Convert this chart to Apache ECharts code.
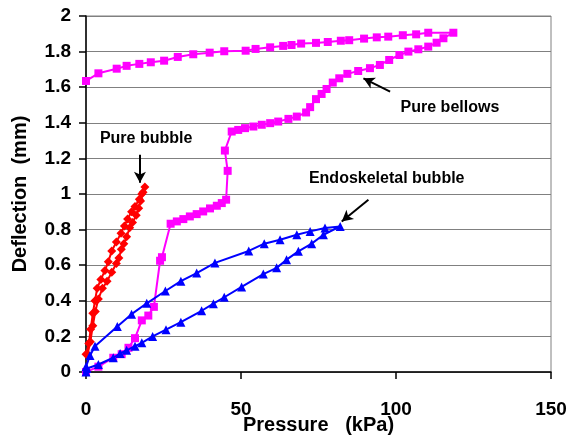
<!DOCTYPE html>
<html><head><meta charset="utf-8">
<script src="https://cdn.jsdelivr.net/npm/echarts@6/dist/echarts.min.js"></script>
<style>html,body{margin:0;padding:0;background:#fff}#c{width:569px;height:435px}</style>
</head><body><div id="c"></div>
<script>
// ---- data ----
const xTicks = [0, 50, 100, 150];
const yTicks = [0, 0.2, 0.4, 0.6, 0.8, 1, 1.2, 1.4, 1.6, 1.8, 2];
const bellowsX = [0,4.0,8.8,11.5,13.7,15.8,18.0,20.1,21.9,23.9,24.5,27.3,29.3,31.4,33.5,35.7,37.8,40.0,42.2,43.8,45.2,45.7,44.8,47.0,49.1,51.3,54.0,56.7,59.4,62.0,65.3,68.0,71.0,72.3,74.2,76.0,77.6,79.6,81.7,84.3,87.8,91.6,94.8,97.8,101.1,104.0,107.2,110.4,113.1,115.3,118.5,
  110.4,106.5,102.2,97.5,93.8,89.7,84.9,82.2,78.0,74.2,69.4,66.3,63.6,59.4,54.7,51.5,44.6,39.9,34.6,29.6,25.2,20.9,17.2,13.1,9.9,4.0,0];
const bellowsY = [0,0.03,0.08,0.10,0.136,0.19,0.29,0.317,0.366,0.625,0.645,0.833,0.846,0.859,0.874,0.887,0.902,0.919,0.934,0.949,0.968,1.13,1.244,1.351,1.36,1.37,1.379,1.389,1.398,1.407,1.422,1.435,1.458,1.488,1.533,1.562,1.59,1.626,1.65,1.675,1.691,1.707,1.725,1.753,1.781,1.8,1.813,1.828,1.85,1.875,1.906,
  1.906,1.897,1.892,1.884,1.88,1.873,1.864,1.861,1.854,1.849,1.845,1.837,1.832,1.824,1.815,1.805,1.802,1.794,1.785,1.77,1.749,1.74,1.731,1.72,1.704,1.678,1.635];
const bubbleX = [0,0.9,1.5,2.2,2.9,3.6,4.8,6.1,7.2,8.3,9.8,11.3,12.4,13.4,14.7,15.8,17.2,18.0,19.0,
  18.4,17.6,17.0,16.2,15.0,14.1,13.1,12.2,11.4,10.6,9.8,8.3,6.8,5.3,4.0,3.0,2.2,1.4,0.5];
const bubbleY = [0.10,0.16,0.24,0.33,0.40,0.47,0.52,0.57,0.62,0.68,0.73,0.78,0.82,0.86,0.90,0.93,0.97,1.00,1.04,
  1.01,0.96,0.92,0.88,0.84,0.81,0.76,0.72,0.69,0.64,0.61,0.56,0.51,0.47,0.41,0.34,0.26,0.17,0.10];
const endoX = [0,0.3,4.0,8.8,11.0,13.1,15.8,18.0,21.5,25.8,30.6,37.3,41.1,44.6,50.2,57.2,61.5,64.7,68.5,72.8,76.6,82.0,
  77.1,72.3,68.0,62.6,57.5,52.5,41.6,35.7,30.6,25.6,19.6,14.7,10.1,2.9,1.3,0];
const endoY = [0,0.02,0.042,0.08,0.104,0.122,0.145,0.164,0.2,0.238,0.28,0.344,0.384,0.42,0.478,0.55,0.585,0.631,0.678,0.721,0.771,0.818,
  0.809,0.79,0.771,0.743,0.721,0.68,0.613,0.556,0.51,0.455,0.386,0.325,0.255,0.145,0.093,0.03];
const seriesNames = ['Pure bellows', 'Pure bubble', 'Endoskeletal bubble'];
// annotations: [text, textX, textY, arrowFromX, arrowFromY, arrowToX, arrowToY]
const notes = [
  ['Pure bubble', 19.4, 1.31, 17.4, 1.22, 17.4, 1.063],
  ['Pure bellows', 117.4, 1.484, 98.1, 1.575, 89.5, 1.65],
  ['Endoskeletal bubble', 97.0, 1.088, 91.1, 0.968, 82.5, 0.846]
];
// ---- chart ----
const FONT = 'Liberation Sans, Arial, sans-serif';
const zip = (xs, ys) => xs.map((x, i) => [x, ys[i]]);
const chart = echarts.init(document.getElementById('c'));
const arrowLines = notes.map(n => [
  {coord: [n[3], n[4]], symbol: 'none'},
  {coord: [n[5], n[6]], symbol: 'arrow'}
]);
chart.setOption({
  animation: false,
  backgroundColor: '#fff',
  grid: {left: 86, right: 18, top: 16, bottom: 63, outerBoundsMode: 'none', containLabel: false,
    show: true, borderColor: '#808080', borderWidth: 1},
  xAxis: {
    type: 'value', min: 0, max: 150, interval: 50,
    name: 'Pressure   (kPa)', nameLocation: 'middle', nameGap: 43, nameMoveOverlap: false,
    nameTextStyle: {fontFamily: FONT, fontSize: 20, fontWeight: 'bold', color: '#000'},
    axisLine: {lineStyle: {color: '#000', width: 1.5}},
    axisTick: {show: true, length: 7, lineStyle: {color: '#000', width: 1.5}},
    axisLabel: {fontFamily: FONT, fontSize: 19, fontWeight: 'bold', color: '#000', margin: 28,
      formatter: v => xTicks.includes(v) ? String(v) : ''},
    splitLine: {show: false}
  },
  yAxis: {
    type: 'value', min: 0, max: 2, interval: 0.2,
    name: 'Deflection  (mm)', nameLocation: 'middle', nameGap: 56,
    nameTextStyle: {fontFamily: FONT, fontSize: 20, fontWeight: 'bold', color: '#000'},
    axisLine: {show: true, lineStyle: {color: '#000', width: 1.5}},
    axisTick: {show: true, length: 7, lineStyle: {color: '#000', width: 1.5}},
    axisLabel: {fontFamily: FONT, fontSize: 19, fontWeight: 'bold', color: '#000', margin: 15,
      formatter: v => { const t = yTicks.find(k => Math.abs(k - v) < 1e-6); return t === undefined ? '' : String(t); }},
    splitLine: {show: true, lineStyle: {color: '#808080', width: 1.2}}
  },
  series: [
    {name: seriesNames[0], type: 'line', data: zip(bellowsX, bellowsY), symbol: 'rect', symbolSize: 8,
      itemStyle: {color: '#FF00FF'}, lineStyle: {color: '#FF00FF', width: 2}, z: 3,
      markLine: {silent: true, symbolSize: [9, 11], label: {show: false},
        lineStyle: {color: '#000', width: 2, type: 'solid'}, data: arrowLines}},
    {name: seriesNames[1], type: 'line', data: zip(bubbleX, bubbleY), symbol: 'diamond', symbolSize: 9,
      itemStyle: {color: '#FF0000'}, lineStyle: {color: '#FF0000', width: 2}, z: 4},
    {name: seriesNames[2], type: 'line', data: zip(endoX, endoY), symbol: 'triangle', symbolSize: 9,
      itemStyle: {color: '#0000FF'}, lineStyle: {color: '#0000FF', width: 2}, z: 5}
  ]
});
const texts = notes.map(n => {
  const p = chart.convertToPixel({gridIndex: 0}, [n[1], n[2]]);
  return {type: 'text', x: p[0], y: p[1], style: {text: n[0], fill: '#000',
    font: 'bold 16px ' + FONT, textAlign: 'center', textVerticalAlign: 'middle'}, z: 10};
});
chart.setOption({graphic: texts});
</script></body></html>
